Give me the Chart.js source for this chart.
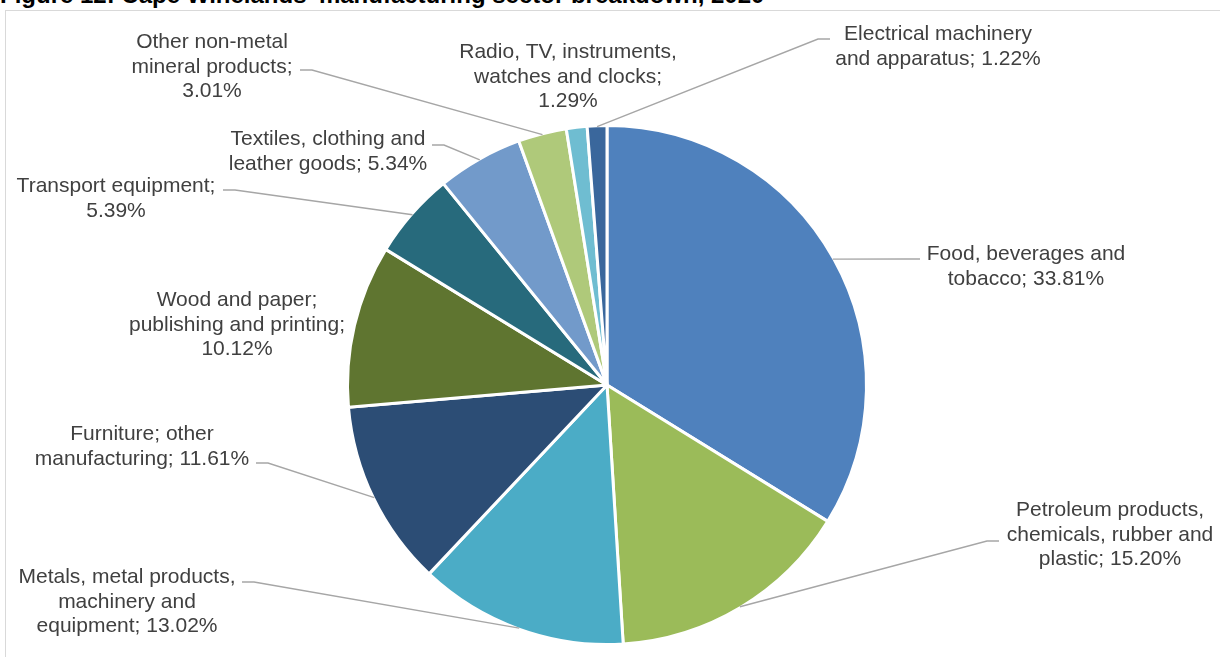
<!DOCTYPE html>
<html>
<head>
<meta charset="utf-8">
<title>Manufacturing sector breakdown</title>
<script src="https://cdn.jsdelivr.net/npm/chart.js@4.4.0/dist/chart.umd.min.js"></script>
<style>
  html, body { margin: 0; padding: 0; background: #fff; overflow: hidden; }
  body { width: 1220px; height: 657px; position: relative; }
  #title {
    position: absolute; left: 0; top: -17px;
    font: bold 24px "Liberation Sans", Arial, sans-serif;
    line-height: 24px; color: #000; white-space: nowrap;
  }
  #frame {
    position: absolute; left: 5px; top: 10px; width: 1500px; height: 900px;
    border: 1px solid #d9d9d9; box-sizing: border-box;
  }
  #chart { position: absolute; left: 0; top: 0; }
</style>
</head>
<body>
<div id="title">Figure 12: Cape Winelands' manufacturing sector breakdown, 2020</div>
<div id="frame"></div>
<canvas id="chart" width="1220" height="657"></canvas>

<script>
const sectors = [
    'Food, beverages and tobacco',
    'Petroleum products, chemicals, rubber and plastic',
    'Metals, metal products, machinery and equipment',
    'Furniture; other manufacturing',
    'Wood and paper; publishing and printing',
    'Transport equipment',
    'Textiles, clothing and leather goods',
    'Other non-metal mineral products',
    'Radio, TV, instruments, watches and clocks',
    'Electrical machinery and apparatus'
];
const shares = [33.81, 15.20, 13.02, 11.61, 10.12, 5.39, 5.34, 3.01, 1.29, 1.22];
const sliceColors = [
    '#4f81bd', '#9bbb59', '#4bacc6', '#2c4d75', '#5f7530',
    '#276a7c', '#729aca', '#afc97a', '#6fbdd1', '#3a679c'
];

// where each label sits: text centre x, first baseline y, wrap width,
// and the point where its leader line leaves the text (null = no leader)
const labelSpots = [
    { x: 1026, y: 260, wrap: 212, leader: [920, 259, -1] },
    { x: 1110, y: 516, wrap: 214, leader: [999, 541, -1] },
    { x: 127,  y: 583, wrap: 224, leader: [242, 582, 1] },
    { x: 142,  y: 440, wrap: 222, leader: [256, 463, 1] },
    { x: 237,  y: 306, wrap: 222, leader: null },
    { x: 116,  y: 192, wrap: 206, leader: [223, 190, 1] },
    { x: 328,  y: 145, wrap: 206, leader: [432, 145, 1] },
    { x: 212,  y: 48,  wrap: 172, leader: [300, 70, 1] },
    { x: 568,  y: 58,  wrap: 226, leader: null },
    { x: 938,  y: 40,  wrap: 212, leader: [830, 39, -1] }
];

const labelFont = '21px "Liberation Sans", Arial, sans-serif';
const lineGap = 24.5;

function wrapText(ctx, text, maxWidth) {
    const words = text.split(' ');
    const lines = [];
    let line = '';
    words.forEach(w => {
        const test = line ? line + ' ' + w : w;
        if (line && ctx.measureText(test).width > maxWidth) {
            lines.push(line);
            line = w;
        } else {
            line = test;
        }
    });
    if (line) lines.push(line);
    return lines;
}

const sliceLabels = {
    id: 'sliceLabels',
    afterDatasetsDraw(chart) {
        const ctx = chart.ctx;
        const arcs = chart.getDatasetMeta(0).data;
        ctx.save();
        ctx.font = labelFont;
        ctx.fillStyle = '#404040';
        ctx.textAlign = 'center';
        ctx.textBaseline = 'alphabetic';
        arcs.forEach((arc, i) => {
            const spot = labelSpots[i];
            const text = sectors[i] + '; ' + shares[i].toFixed(2) + '%';
            wrapText(ctx, text, spot.wrap).forEach((ln, k) => {
                ctx.fillText(ln, spot.x, spot.y + k * lineGap);
            });

            if (spot.leader) {
                const mid = (arc.startAngle + arc.endAngle) / 2;
                const r = arc.outerRadius - 1;
                const [ax, ay, dir] = spot.leader;
                ctx.beginPath();
                ctx.moveTo(ax, ay);
                ctx.lineTo(ax + dir * 12, ay);
                ctx.lineTo(arc.x + Math.cos(mid) * r, arc.y + Math.sin(mid) * r);
                ctx.strokeStyle = '#a6a6a6';
                ctx.lineWidth = 1.4;
                ctx.stroke();
            }
        });
        ctx.restore();
    }
};

new Chart(document.getElementById('chart'), {
    type: 'pie',
    data: {
        labels: sectors,
        datasets: [{
            data: shares,
            backgroundColor: sliceColors,
            borderColor: '#ffffff',
            borderWidth: 3
        }]
    },
    options: {
        responsive: false,
        animation: false,
        layout: { padding: { left: 346, right: 352, top: 124, bottom: 11 } },
        plugins: {
            legend: { display: false },
            tooltip: { enabled: false }
        }
    },
    plugins: [sliceLabels]
});
</script>
</body>
</html>
